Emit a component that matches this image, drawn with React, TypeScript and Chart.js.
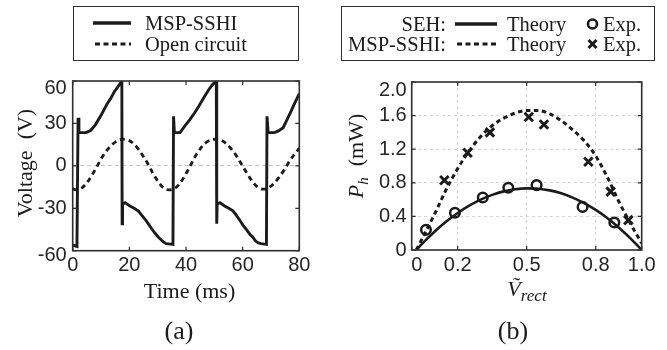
import React, { useEffect, useRef } from "react";
import { Chart, registerables } from "chart.js";

Chart.register(...registerables);

// ---------- Panel (a): voltage waveforms ----------
const sshiTime = [0, 1.5, 1.9, 2.2, 4.7, 6.3, 8, 9.8, 11, 12.2, 13.5, 14.7, 16, 17.2, 17.35, 17.45, 17.6, 18.5, 20.2, 21.7, 23.2, 24.4, 25.5, 26.7, 27.9, 29, 30.2, 31.2, 32, 33, 35.4, 35.6, 35.9, 37.9, 39.6, 41.3, 43, 44.3, 45.5, 46.7, 47.9, 49, 50.2, 50.7, 50.85, 51, 52, 53.6, 55.1, 56.6, 57.8, 59, 60.3, 61.5, 62.6, 63.6, 64.5, 65.5, 66.5, 68.4, 68.6, 69, 71.2, 72.5, 74.3, 75.5, 76.7, 78.3, 80];
const sshiVolt = [-56, -57, 34, 23.5, 23.5, 25, 29, 35, 39.5, 44, 48, 52.4, 56, 59.5, 60, -41, -27, -26, -28.4, -30, -32, -35, -37.6, -41, -44.5, -47.5, -50.3, -52.3, -53.8, -55, -55.5, 35, 23.5, 23.5, 28.2, 32.5, 37.4, 41.5, 45.5, 49.5, 53.5, 56.5, 59.3, 60, -41, -27, -26, -28.4, -30, -31.8, -35, -38.5, -42.5, -45.5, -48.5, -50.5, -53, -54.5, -55, -55.5, 35, 23.5, 23.5, 24.5, 27, 32, 37, 44, 51];
const ocTime = [0, 1.5, 3, 5, 7, 8.7, 10.5, 12.5, 14.5, 16.3, 18, 19.8, 21.6, 23.3, 25, 26.8, 28.5, 30.3, 32, 34, 36, 37.8, 39.6, 41.5, 43.2, 45, 46.8, 48.7, 50.6, 52.5, 54.3, 56.2, 58, 59.8, 61.6, 63.4, 65.3, 67.2, 69.1, 71, 72.9, 74.8, 76.6, 78.4, 80];
const ocVolt = [-16.3, -17, -16, -12, -6, 0, 6.5, 12, 16, 18.3, 18.8, 18, 15.5, 11.5, 6.5, 0.5, -6, -11.5, -15.5, -17, -16, -12.5, -7, 0, 6.5, 12, 16, 18.3, 18.8, 18, 15.5, 11.5, 6.5, 0.5, -5.5, -11, -15, -16.5, -15.5, -12.5, -8, -2.5, 3.5, 8.5, 12.5];
const timeTicks = [0, 20, 40, 60, 80];
const voltTicks = [-60, -30, 0, 30, 60];

// ---------- Panel (b): harvested power ----------
const vTheory = [0.02, 0.05, 0.1, 0.15, 0.2, 0.25, 0.3, 0.35, 0.4, 0.45, 0.5, 0.55, 0.6, 0.65, 0.7, 0.75, 0.8, 0.85, 0.9, 0.95, 1.0];
const sehTheory = [0, 0.087, 0.22, 0.338, 0.441, 0.528, 0.6, 0.656, 0.698, 0.724, 0.734, 0.73, 0.71, 0.675, 0.624, 0.558, 0.477, 0.381, 0.269, 0.142, 0];
const sshiTheory = [0, 0.16, 0.43, 0.72, 0.97, 1.18, 1.35, 1.48, 1.57, 1.63, 1.66, 1.66, 1.62, 1.54, 1.43, 1.3, 1.12, 0.87, 0.58, 0.32, 0.08];
const sehExpV = [0.062, 0.188, 0.309, 0.42, 0.543, 0.743, 0.881];
const sehExpP = [0.24, 0.444, 0.625, 0.741, 0.772, 0.513, 0.328];
const sshiExpV = [0.142, 0.243, 0.34, 0.509, 0.575, 0.768, 0.865, 0.942];
const sshiExpP = [0.83, 1.158, 1.4, 1.583, 1.494, 1.05, 0.695, 0.356];
const vTicks = [0, 0.2, 0.5, 0.8, 1.0];
const pTicks = [0, 0.4, 0.8, 1.2, 1.6, 2.0];

const INK = "#1b1b1b";
const FRAME = "#2e2e2e";
const TICK_COLOR = "#262626";
const SANS = '"Liberation Sans", Arial, sans-serif';
const SERIF = '"Liberation Serif", "Times New Roman", serif';

const framePlugin = {
  id: "frame",
  afterDraw(chart: any) {
    const { ctx, chartArea: a } = chart;
    const xs = chart.scales.x;
    const ys = chart.scales.y;
    ctx.save();
    ctx.strokeStyle = FRAME;
    ctx.lineWidth = 1.2;
    ctx.beginPath();
    xs.ticks.forEach((t: any) => {
      const p = xs.getPixelForValue(t.value);
      ctx.moveTo(p, a.bottom);
      ctx.lineTo(p, a.bottom - 4);
      ctx.moveTo(p, a.top);
      ctx.lineTo(p, a.top + 4);
    });
    ys.ticks.forEach((t: any) => {
      const p = ys.getPixelForValue(t.value);
      ctx.moveTo(a.left, p);
      ctx.lineTo(a.left + 4, p);
      ctx.moveTo(a.right, p);
      ctx.lineTo(a.right - 4, p);
    });
    ctx.stroke();
    ctx.lineWidth = 1.6;
    ctx.strokeRect(a.left, a.top, a.right - a.left, a.bottom - a.top);
    ctx.restore();
  },
};

function tickFont(shifts: Record<string, string>) {
  return (c: any) => {
    const v = c && c.tick ? String(c.tick.value) : "";
    return { family: SANS, size: 20, lineHeight: shifts[v] !== undefined ? shifts[v] : 1.2 };
  };
}

function configA(): any {
  return {
    type: "line",
    data: {
      datasets: [
        {
          label: "MSP-SSHI",
          data: sshiTime.map((t, i) => ({ x: t, y: sshiVolt[i] })),
          borderColor: INK,
          borderWidth: 2.9,
          pointRadius: 0,
          tension: 0,
        },
        {
          label: "Open circuit",
          data: ocTime.map((t, i) => ({ x: t, y: ocVolt[i] })),
          borderColor: INK,
          borderWidth: 2.8,
          borderDash: [5, 4],
          pointRadius: 0,
          cubicInterpolationMode: "monotone",
        },
      ],
    },
    options: {
      responsive: false,
      animation: false,
      layout: { padding: { left: 0, top: 17.3, right: 30.7, bottom: 0 } },
      plugins: { legend: { display: false }, tooltip: { enabled: false } },
      scales: {
        x: {
          type: "linear",
          min: 0,
          max: 80,
          afterBuildTicks: (s: any) => {
            s.ticks = timeTicks.map((v) => ({ value: v }));
          },
          afterFit: (s: any) => {
            s.height = 49.3;
          },
          grid: { display: false, drawTicks: false },
          border: { display: false },
          ticks: { font: { family: SANS, size: 20 }, color: TICK_COLOR, padding: 3, maxRotation: 0, autoSkip: false },
        },
        y: {
          type: "linear",
          min: -60,
          max: 60,
          afterBuildTicks: (s: any) => {
            s.ticks = voltTicks.map((v) => ({ value: v }));
          },
          afterFit: (s: any) => {
            s.width = 72.7;
          },
          grid: {
            drawTicks: false,
            lineWidth: 1,
            color: (c: any) => (c.tick && c.tick.value === 0 ? "#c4c4c4" : "rgba(0,0,0,0)"),
          },
          border: { display: false, dash: [4, 3] },
          ticks: {
            font: tickFont({ "60": "15px", "-60": "10px" }),
            color: TICK_COLOR,
            padding: 6,
            autoSkip: false,
            callback: (v: number) => (v === 60 || v === -60 ? ["", String(v)] : String(v)),
          },
        },
      },
    },
    plugins: [framePlugin],
  };
}

function configB(): any {
  return {
    type: "line",
    data: {
      datasets: [
        {
          label: "SEH Exp.",
          data: sehExpV.map((v, i) => ({ x: v, y: sehExpP[i] })),
          showLine: false,
          pointStyle: "circle",
          pointRadius: 4.8,
          pointBorderWidth: 2.5,
          pointBackgroundColor: "rgba(0,0,0,0)",
          pointBorderColor: INK,
          borderColor: INK,
        },
        {
          label: "MSP-SSHI Exp.",
          data: sshiExpV.map((v, i) => ({ x: v, y: sshiExpP[i] })),
          showLine: false,
          pointStyle: "crossRot",
          pointRadius: 6,
          pointBorderWidth: 3,
          pointBorderColor: INK,
          borderColor: INK,
        },
        {
          label: "SEH Theory",
          data: vTheory.map((v, i) => ({ x: v, y: sehTheory[i] })),
          borderColor: INK,
          borderWidth: 2.6,
          pointRadius: 0,
          cubicInterpolationMode: "monotone",
        },
        {
          label: "MSP-SSHI Theory",
          data: vTheory.map((v, i) => ({ x: v, y: sshiTheory[i] })),
          borderColor: INK,
          borderWidth: 3,
          borderDash: [4.5, 3.5],
          pointRadius: 0,
          cubicInterpolationMode: "monotone",
        },
      ],
    },
    options: {
      responsive: false,
      animation: false,
      layout: { padding: { left: 0, top: 17.3, right: 25.3, bottom: 0 } },
      plugins: { legend: { display: false }, tooltip: { enabled: false } },
      scales: {
        x: {
          type: "linear",
          min: 0,
          max: 1,
          afterBuildTicks: (s: any) => {
            s.ticks = vTicks.map((v) => ({ value: v }));
          },
          afterFit: (s: any) => {
            s.height = 50;
          },
          grid: {
            drawTicks: false,
            lineWidth: 1,
            color: (c: any) => (c.tick && (c.tick.value === 0 || c.tick.value === 1) ? "rgba(0,0,0,0)" : "#d6d6d6"),
          },
          border: { display: false, dash: [3, 3] },
          ticks: {
            font: { family: SANS, size: 20 },
            color: TICK_COLOR,
            padding: 3,
            maxRotation: 0,
            autoSkip: false,
            callback: (v: number) => (v === 0 ? "\u20020" : v.toFixed(1)),
          },
        },
        y: {
          type: "linear",
          min: 0,
          max: 2,
          afterBuildTicks: (s: any) => {
            s.ticks = pTicks.map((v) => ({ value: v }));
          },
          afterFit: (s: any) => {
            s.width = 81.7;
          },
          grid: {
            drawTicks: false,
            lineWidth: 1,
            color: (c: any) => (c.tick && (c.tick.value === 0 || c.tick.value === 2) ? "rgba(0,0,0,0)" : "#d6d6d6"),
          },
          border: { display: false, dash: [3, 3] },
          ticks: {
            font: tickFont({ "2": "17px" }),
            color: TICK_COLOR,
            padding: 5,
            autoSkip: false,
            callback: (v: number) => (v === 0 ? "0" : v === 2 ? ["", v.toFixed(1)] : v.toFixed(1)),
          },
        },
      },
    },
    plugins: [framePlugin],
  };
}

function ChartBox(props: { make: () => any; left: number; top: number; width: number; height: number }) {
  const ref = useRef<HTMLCanvasElement>(null);
  useEffect(() => {
    const chart = new Chart(ref.current as HTMLCanvasElement, props.make());
    return () => chart.destroy();
  }, []);
  return (
    <canvas
      ref={ref}
      width={props.width}
      height={props.height}
      style={{ position: "absolute", left: props.left, top: props.top, width: props.width, height: props.height }}
    />
  );
}

const txt: React.CSSProperties = {
  position: "absolute",
  fontFamily: SERIF,
  color: INK,
  whiteSpace: "pre",
  lineHeight: 1,
};

function Centered(props: { x: number; y: number; size: number; rotate?: boolean; children: React.ReactNode }) {
  return (
    <div
      style={{
        ...txt,
        left: props.x,
        top: props.y,
        fontSize: props.size,
        transform: `translate(-50%, -50%)${props.rotate ? " rotate(-90deg)" : ""}`,
      }}
    >
      {props.children}
    </div>
  );
}

function LeftText(props: { x: number; y: number; children: React.ReactNode }) {
  return <div style={{ ...txt, left: props.x, top: props.y, fontSize: 20.5, transform: "translateY(-50%)" }}>{props.children}</div>;
}

function RightText(props: { right: number; y: number; children: React.ReactNode }) {
  return (
    <div style={{ ...txt, left: props.right, top: props.y, fontSize: 20.5, transform: "translate(-100%, -50%)" }}>
      {props.children}
    </div>
  );
}

export default function App() {
  return (
    <div style={{ position: "absolute", left: 0, top: 0, width: 667, height: 350, background: "#fff", overflow: "hidden" }}>
      <ChartBox make={configA} left={0} top={60} width={330} height={240} />
      <ChartBox make={configB} left={330} top={60} width={337} height={240} />

      {/* legend boxes and samples */}
      <div style={{ position: "absolute", left: 73, top: 6, width: 226, height: 55, border: `1.5px solid ${FRAME}`, boxSizing: "border-box" }} />
      <div style={{ position: "absolute", left: 341, top: 6, width: 314, height: 55, border: `1.5px solid ${FRAME}`, boxSizing: "border-box" }} />
      <svg width={667} height={350} style={{ position: "absolute", left: 0, top: 0, pointerEvents: "none" }}>
        <line x1={93} y1={23} x2={131} y2={23} stroke={INK} strokeWidth={3.5} />
        <line x1={95} y1={44} x2={131} y2={44} stroke={INK} strokeWidth={3} strokeDasharray="5 3.5" />
        <line x1={455} y1={24} x2={497} y2={24} stroke={INK} strokeWidth={3.5} />
        <line x1={457} y1={44} x2={497} y2={44} stroke={INK} strokeWidth={3} strokeDasharray="5 3.5" />
        <circle cx={592.5} cy={24} r={4.5} fill="none" stroke={INK} strokeWidth={2.6} />
        <line x1={588.5} y1={40} x2={596.5} y2={48} stroke={INK} strokeWidth={3} />
        <line x1={596.5} y1={40} x2={588.5} y2={48} stroke={INK} strokeWidth={3} />
      </svg>

      <LeftText x={145} y={23}>MSP-SSHI</LeftText>
      <LeftText x={145} y={44}>Open circuit</LeftText>

      <RightText right={446} y={24}>SEH:</RightText>
      <RightText right={446} y={44}>MSP-SSHI:</RightText>
      <LeftText x={507} y={24}>Theory</LeftText>
      <LeftText x={507} y={44}>Theory</LeftText>
      <LeftText x={603} y={24}>Exp.</LeftText>
      <LeftText x={603} y={44}>Exp.</LeftText>

      {/* axis titles */}
      <Centered x={25} y={163} size={22} rotate>
        {"Voltage  (V)"}
      </Centered>
      <Centered x={189.5} y={291} size={22}>
        Time (ms)
      </Centered>
      <Centered x={179} y={331} size={26}>
        (a)
      </Centered>

      <Centered x={356} y={156} size={22} rotate>
        <i>P</i>
        <i style={{ fontSize: 15, position: "relative", top: 5 }}>h</i>
        {"  (mW)"}
      </Centered>
      <Centered x={527} y={289} size={22}>
        <i>{"\u1E7C"}</i>
        <i style={{ fontSize: 17, position: "relative", top: 5 }}>rect</i>
      </Centered>
      <Centered x={513} y={331} size={26}>
        (b)
      </Centered>
    </div>
  );
}
